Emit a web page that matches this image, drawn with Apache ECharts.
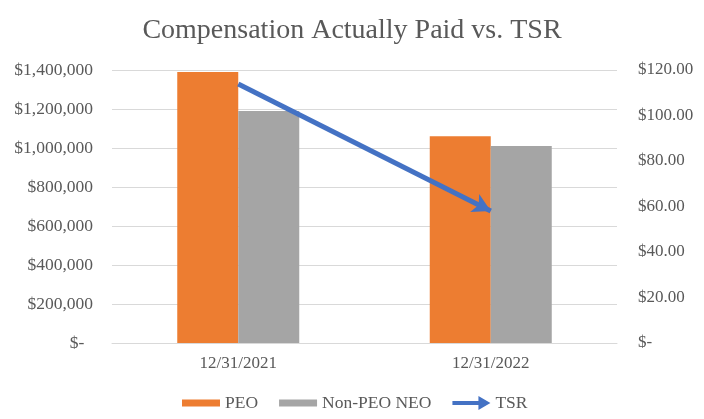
<!DOCTYPE html>
<html><head><meta charset="utf-8">
<script src="https://cdn.jsdelivr.net/npm/echarts@6/dist/echarts.min.js"></script>
<style>html,body{margin:0;padding:0;background:#fff}#c{width:704px;height:419px}</style>
</head><body><div id="c"></div>
<script>
const categories = ['12/31/2021', '12/31/2022'];
const peo = [1390000, 1060000];
const nonPeo = [1190000, 1010000];
const tsr = [113.8, 58.0];
const leftTicks = {min: 0, max: 1400000, interval: 200000};
const rightTicks = {min: 0, max: 120, interval: 20};

const font = 'Liberation Serif, Times New Roman, serif';
const txt = '#595959';
const chart = echarts.init(document.getElementById('c'));
chart.setOption({
  backgroundColor: '#fff',
  animation: false,
  title: {
    text: 'Compensation Actually Paid vs. TSR', left: 'center', top: 12,
    textStyle: {fontFamily: font, fontSize: 28, fontWeight: 'normal', color: txt}
  },
  legend: {
    top: 389, left: 177, itemWidth: 38, itemHeight: 14, itemGap: 21,
    textStyle: {fontFamily: font, fontSize: 17.5, color: txt},
    data: [
      {name: 'PEO', icon: 'path://M0,0M0,3.5h38v7h-38zM38,14'},
      {name: 'Non-PEO NEO', icon: 'path://M0,0M0,3.5h38v7h-38zM38,14'},
      {name: 'TSR', icon: 'path://M0,5h26v-5l12,7l-12,7v-5h-26z'}
    ]
  },
  grid: {left: 112, right: 87, top: 70, bottom: 76},
  xAxis: {
    type: 'category', data: categories,
    axisLine: {lineStyle: {color: '#D9D9D9'}}, axisTick: {show: false},
    axisLabel: {fontFamily: font, fontSize: 17, color: txt, margin: 12}
  },
  yAxis: [
    {
      type: 'value', min: leftTicks.min, max: leftTicks.max, interval: leftTicks.interval,
      axisLabel: {fontFamily: font, fontSize: 17.5, color: txt, margin: 19,
        formatter: v => v === 0 ? '$-  ' : '$' + v.toLocaleString('en-US')},
      splitLine: {lineStyle: {color: '#D9D9D9', width: 1}}
    },
    {
      type: 'value', min: rightTicks.min, max: rightTicks.max, interval: rightTicks.interval,
      axisLabel: {fontFamily: font, fontSize: 17, color: txt, margin: 21,
        formatter: v => v === 0 ? '$-' : '$' + v.toFixed(2)},
      splitLine: {show: false}
    }
  ],
  series: [
    {name: 'PEO', type: 'bar', data: peo, barWidth: 61, barGap: '0%',
      itemStyle: {color: '#ED7D31'}},
    {name: 'Non-PEO NEO', type: 'bar', data: nonPeo, barWidth: 61, barGap: '0%',
      itemStyle: {color: '#A5A5A5'}},
    {name: 'TSR', type: 'line', yAxisIndex: 1, data: tsr, showSymbol: false, symbol: 'none',
      lineStyle: {color: '#4472C4', width: 0},
      itemStyle: {color: '#4472C4'},
      markLine: {
        silent: true, symbol: ['none', 'arrow'], symbolSize: [15, 18],
        label: {show: false},
        lineStyle: {color: '#4472C4', width: 5, type: 'solid'},
        data: [[{coord: [categories[0], tsr[0]]}, {coord: [categories[1], tsr[1]]}]]
      }}
  ]
});
</script></body></html>
